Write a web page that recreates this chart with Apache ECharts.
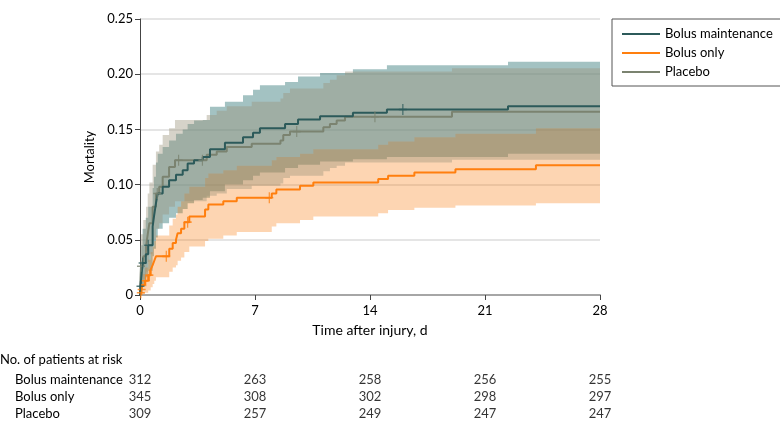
<!DOCTYPE html>
<html><head><meta charset="utf-8">
<script src="https://cdn.jsdelivr.net/npm/echarts@6/dist/echarts.min.js"></script>
<style>html,body{margin:0;padding:0;background:#fff}#c{width:780px;height:432px}</style>
</head><body><div id="c"></div>
<script>
// ---- Kaplan-Meier data (days, cumulative mortality) ----
const bmT  = [0,0.03,0.08,0.16,0.35,0.5,0.77,0.85,0.97,1.08,1.38,1.77,2.19,2.6,2.9,3.29,3.82,4.26,5.17,6.27,6.88,7.3,8.83,9.62,10.96,12.96,15.03,22.4,28];
const bmV  = [0,0.008,0.016,0.029,0.037,0.045,0.062,0.071,0.083,0.092,0.098,0.104,0.109,0.113,0.119,0.122,0.125,0.132,0.138,0.143,0.147,0.151,0.155,0.159,0.162,0.165,0.168,0.171,0.171];
const bmLo = [0,0,0.002,0.01,0.016,0.022,0.035,0.042,0.052,0.06,0.065,0.07,0.074,0.078,0.083,0.086,0.088,0.094,0.1,0.104,0.108,0.111,0.115,0.118,0.121,0.123,0.125,0.128,0.128];
const bmHi = [0,0.03,0.045,0.06,0.07,0.08,0.097,0.107,0.12,0.128,0.134,0.14,0.146,0.15,0.155,0.158,0.1585,0.1705,0.175,0.181,0.186,0.19,0.193,0.198,0.201,0.2045,0.208,0.2113,0.2113];
const bmCensorT = [0.03,0.16,0.5,16.0];
const bmCensorV = [0.008,0.029,0.045,0.168];

const boT  = [0,0.02,0.08,0.15,0.3,0.5,0.65,0.77,0.87,0.97,1.78,1.99,2.19,2.29,2.5,2.7,3.0,3.96,4.16,5.07,5.89,8.02,8.3,9.74,10.55,14.5,15.1,16.7,19.2,24.1,28];
const boV  = [0,0.002,0.005,0.009,0.013,0.018,0.023,0.027,0.031,0.035,0.042,0.047,0.05,0.056,0.06,0.066,0.071,0.0775,0.082,0.085,0.088,0.092,0.0955,0.099,0.102,0.105,0.108,0.111,0.114,0.1175,0.1175];
const boLo = [0,0,0,0.001,0.002,0.004,0.007,0.01,0.013,0.016,0.021,0.025,0.027,0.031,0.034,0.039,0.044,0.049,0.051,0.054,0.057,0.062,0.065,0.068,0.071,0.074,0.077,0.079,0.081,0.083,0.083];
const boHi = [0,0.007,0.012,0.019,0.025,0.032,0.039,0.044,0.049,0.054,0.063,0.069,0.073,0.08,0.085,0.092,0.098,0.106,0.11,0.113,0.117,0.122,0.125,0.128,0.132,0.136,0.139,0.143,0.146,0.151,0.151];
const boCensorT = [0.05,0.1,0.35,0.57,1.6,2.9,7.87];
const boCensorV = [0.002,0.005,0.013,0.018,0.035,0.066,0.088];

const plT  = [0,0.02,0.04,0.06,0.2,0.37,0.47,0.57,0.77,0.97,1.17,1.38,1.77,2.13,4.06,4.67,5.28,6.8,8.55,8.72,9.13,11.16,11.56,11.97,12.48,18.99,28];
const plV  = [0,0.009,0.018,0.026,0.035,0.044,0.055,0.065,0.08,0.092,0.098,0.107,0.116,0.122,0.127,0.13,0.134,0.137,0.14,0.145,0.148,0.152,0.155,0.158,0.1615,0.166,0.166];
const plLo = [0,0,0.003,0.008,0.014,0.021,0.03,0.037,0.05,0.06,0.065,0.073,0.08,0.085,0.09,0.092,0.096,0.099,0.101,0.106,0.108,0.112,0.115,0.117,0.12,0.1225,0.1225];
const plHi = [0,0.035,0.045,0.055,0.068,0.08,0.092,0.102,0.118,0.13,0.136,0.145,0.151,0.1585,0.163,0.167,0.171,0.175,0.178,0.183,0.187,0.192,0.195,0.199,0.2025,0.2055,0.2055];
const plCensorT = [0.06,1.05,2.35,3.8,9.54,14.3];
const plCensorV = [0.026,0.092,0.122,0.122,0.148,0.1615];

// ---- axes / risk table ----
const xTicks = [0,7,14,21,28];
const yTickMax = 0.25;
const groupNames = ['Bolus maintenance','Bolus only','Placebo'];
const riskBM = [312,263,258,256,255];
const riskBO = [345,308,302,298,297];
const riskPL = [309,257,249,247,247];

const FONT = 'Lato';
const C_BM = '#2c5a5a', C_BO = '#ff7f0e', C_PL = '#7b8370';

const pairs = (t, v) => t.map((x, i) => [x, v[i]]);
function band(t, lo, hi, color, op) {
  return {type:'custom', coordinateSystem:'cartesian2d', xAxisIndex:0, yAxisIndex:0,
    data:[[0, 0]], silent:true, animation:false, z:1,
    renderItem:(params, api) => {
      const pts = [];
      const n = t.length;
      for (let i = 0; i < n; i++) {
        const tn = i + 1 < n ? t[i + 1] : t[i];
        pts.push(api.coord([t[i], hi[i]]));
        pts.push(api.coord([tn, hi[i]]));
      }
      for (let i = n - 1; i >= 0; i--) {
        const tn = i + 1 < n ? t[i + 1] : t[i];
        pts.push(api.coord([tn, lo[i]]));
        pts.push(api.coord([t[i], lo[i]]));
      }
      return {type:'polygon', shape:{points:pts}, style:{fill:color, opacity:op}};
    }};
}
function kmLine(name, t, v, color) {
  return {type:'line', name:name, data:pairs(t, v), step:'end', symbol:'none',
    itemStyle:{color:color}, lineStyle:{color:color, width:2}, animation:false, z:3};
}
const PLUS = 'path://M4,0 h1.4 v4.3 h4 v1.4 h-4 v4.3 h-1.4 v-4.3 h-4 v-1.4 h4 z';
function censor(t, v, color) {
  return {type:'scatter', data:pairs(t, v), symbol:PLUS, symbolSize:[8,11], symbolKeepAspect:false,
    itemStyle:{color:color}, animation:false, z:4, silent:true};
}
const riskData = [];
[riskBM, riskBO, riskPL].forEach((arr, g) => arr.forEach((n, i) => riskData.push([xTicks[i], groupNames[g], n])));

const chart = echarts.init(document.getElementById('c'), null, {renderer:'canvas'});
chart.setOption({
  animation:false,
  textStyle:{fontFamily:FONT, color:'#000'},
  grid:[
    {left:140, right:180, top:19, bottom:137},
    {left:140, right:180, top:371, height:51}
  ],
  xAxis:[
    {type:'value', gridIndex:0, min:0, max:28, interval:7,
     name:'Time after injury, d', nameLocation:'middle', nameGap:28,
     nameTextStyle:{fontSize:14, color:'#000', fontFamily:FONT},
     axisLine:{lineStyle:{color:'#a6a6a6', width:2}},
     axisTick:{show:true, length:5, lineStyle:{color:'#444'}},
     axisLabel:{fontSize:13, color:'#000', margin:9, fontFamily:FONT},
     splitLine:{show:false}},
    {type:'value', gridIndex:1, min:0, max:28, show:false}
  ],
  yAxis:[
    {type:'value', gridIndex:0, min:0, max:yTickMax, interval:0.05,
     name:'Mortality', nameLocation:'middle', nameGap:44, nameRotate:90,
     nameTextStyle:{fontSize:13, color:'#000', fontFamily:FONT},
     axisLine:{show:true, lineStyle:{color:'#444', width:1}},
     axisTick:{show:true, length:5, lineStyle:{color:'#444'}},
     axisLabel:{fontSize:13, color:'#000', margin:7, fontFamily:FONT,
       formatter:v => v === 0 ? '0' : v.toFixed(2)},
     splitLine:{show:true, lineStyle:{color:'#dcdcdc', width:1.5}}},
    {type:'category', gridIndex:1, data:groupNames, inverse:true,
     axisLine:{show:false}, axisTick:{show:false}, splitLine:{show:false},
     axisLabel:{align:'left', margin:125, fontSize:13, color:'#000', fontFamily:FONT}}
  ],
  legend:{
    data:groupNames, orient:'vertical', left:612, top:19,
    padding:[6,13,5,10], itemGap:1, itemWidth:38, itemHeight:2, icon:'rect',
    borderColor:'#555', borderWidth:1,
    textStyle:{fontSize:13, color:'#000', fontFamily:FONT, lineHeight:18}
  },
  graphic:[
    {type:'text', left:0, top:353, style:{text:'No. of patients at risk', font:'13px '+FONT, fill:'#000'}}
  ],
  series:[
    band(bmT, bmLo, bmHi, '#196666', 0.4),
    band(boT, boLo, boHi, '#f87300', 0.3),
    band(plT, plLo, plHi, '#989178', 0.4),
    kmLine('Placebo', plT, plV, C_PL),
    kmLine('Bolus only', boT, boV, C_BO),
    kmLine('Bolus maintenance', bmT, bmV, C_BM),
    censor(plCensorT, plCensorV, C_PL),
    censor(boCensorT, boCensorV, C_BO),
    censor(bmCensorT, bmCensorV, C_BM),
    {type:'scatter', xAxisIndex:1, yAxisIndex:1, data:riskData, symbolSize:1,
     itemStyle:{color:'rgba(0,0,0,0)'}, silent:true, animation:false,
     label:{show:true, position:'inside', fontSize:13, color:'#000', fontFamily:FONT,
       formatter:p => String(p.value[2])}}
  ]
});
</script></body></html>
